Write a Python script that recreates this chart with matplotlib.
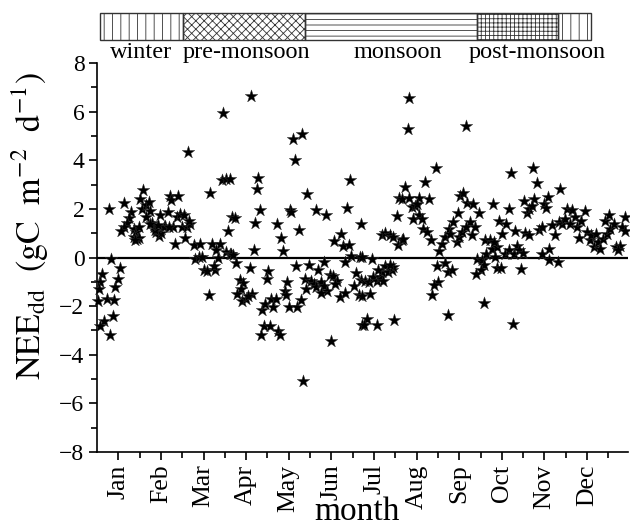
import matplotlib
matplotlib.use("Agg")
import matplotlib.pyplot as plt
from matplotlib.patches import Rectangle
from matplotlib.ticker import MultipleLocator, FixedLocator

plt.rcParams['font.family'] = ['Liberation Serif', 'DejaVu Serif']
plt.rcParams['mathtext.fontset'] = 'stix'
plt.rcParams['hatch.linewidth'] = 0.6

# ---- data (position along year in days, NEE in gC m-2 d-1) ----
day = [3.6, 2.4, 1.2, 0.7, 7.1, 11.9, 13.1, 14.8, 16.2, 10.0, 11.2, 5.2, 1.9, 9.0, 8.3,
       19.5, 24.5, 23.1, 21.4, 19.0, 17.4, 26.2, 28.1, 28.6, 26.7, 30.2, 32.8, 30.9, 32.1,
       35.2, 37.4, 38.0, 35.2, 39.3, 40.5, 42.4, 44.0, 45.9, 45.2, 48.8, 50.5, 51.9, 52.8,
       57.8, 54.3, 57.1, 59.5, 61.9, 60.7, 64.3, 66.6, 65.5, 55.9, 63.1, 69.0, 73.3, 64.7,
       70.2, 72.6, 75.0, 76.2, 78.5, 84.5, 83.3, 79.7, 82.1, 88.1, 85.2, 86.2, 80.9, 90.0,
       89.3, 92.3, 94.7, 93.3, 92.3, 95.2, 96.4, 41.7, 47.6, 43.6, 29.8, 27.4, 38.0, 51.2,
       109.7, 114.9, 114.2, 98.3, 113.0, 116.1, 112.1, 95.9, 97.0, 99.5, 109.0, 101.8,
       104.2, 103.0, 100.2, 103.5, 106.6, 110.6, 107.8, 122.0, 121.3, 118.0, 119.7, 124.4,
       127.5, 125.6, 119.2, 123.3, 116.8, 129.2, 130.4, 128.5, 131.6, 132.8, 137.5, 138.7,
       140.1, 146.3, 141.1, 144.0, 150.1, 156.6, 163.7, 180.4, 178.5, 188.2, 174.4, 169.2,
       175.6, 179.7, 181.6, 187.5, 177.3, 162.0, 151.3, 142.3, 157.8, 135.9, 134.0, 135.2,
       136.8, 143.0, 145.4, 148.2, 149.4, 153.0, 154.9, 156.6, 160.1, 162.0, 164.4, 159.7,
       166.1, 168.5, 171.6, 170.1, 173.2, 176.8, 183.5, 185.1, 186.8, 188.7, 166.8, 189.4,
       147.0,
       223.0, 221.8, 263.5, 241.8, 196.1, 189.0, 192.6, 190.7, 200.2, 212.3, 194.9, 189.5,
       191.4, 193.8, 197.3, 199.7, 202.1, 204.5, 203.3, 205.7, 208.0, 210.4, 211.6, 200.9,
       209.2, 203.3, 205.7, 209.2, 211.1, 215.2, 217.6, 218.7, 214.0, 215.9, 217.6, 219.9,
       222.8, 229.5, 224.7, 227.1, 225.9, 229.5, 231.8, 228.3, 234.2, 237.3, 233.0, 235.4,
       238.3, 244.4, 246.1, 248.5, 251.6, 254.4, 252.1, 256.8, 258.7, 260.4, 258.0, 259.2,
       261.6, 264.4, 268.2, 272.8, 266.3, 263.5, 269.9, 267.5, 242.5, 248.5, 250.9, 253.3,
       243.7, 240.2, 239.4, 250.2, 271.1, 274.7, 277.8, 275.9, 274.0, 270.6, 275.9, 277.1,
       280.6, 283.0, 281.8,
       295.8, 311.0, 314.1, 330.8, 294.4, 286.8, 292.0, 289.1, 298.7, 285.6, 283.2, 283.9,
       285.6, 288.7, 302.9, 296.8, 291.5, 293.9, 297.5, 299.9, 301.0, 303.9, 305.1, 307.0,
       308.7, 312.2, 310.6, 305.8, 308.7, 315.3, 317.7, 319.4, 320.6, 322.0, 317.7, 322.9,
       322.5, 328.9, 324.8, 326.7, 329.6, 332.0, 333.9, 335.6, 339.1, 341.0, 337.9, 342.7,
       344.4, 345.8, 348.2, 349.8, 352.2, 354.6, 352.9, 356.3, 357.7, 359.4, 361.0, 362.9,
       365.3, 364.1, 366.5, 368.9, 370.5, 373.6, 372.0, 374.8, 376.7, 377.2]

nee = [-0.67, -1.0, -1.3, -1.8, -1.7, -1.75, -1.2, -0.9, -0.44, -0.05, -2.4, -2.6, -2.8, -3.2, 1.98,
       2.24, 1.89, 1.62, 1.43, 1.25, 1.11, 1.18, 1.04, 0.77, 0.86, 0.8, 2.76, 2.41, 2.0,
       2.14, 2.28, 1.93, 1.66, 1.41, 1.25, 1.04, 0.9, 1.0, 1.73, 1.28, 1.87, 2.55, 2.35,
       2.51, 1.25, 1.66, 1.8, 1.73, 1.25, 1.25, 1.39, 1.5, 0.56, 0.8, 0.53, 0.56, 4.33,
       -0.05, 0.01, 0.04, -0.51, -0.56, -0.51, -0.33, -1.54, 0.56, 0.56, 0.29, -0.01, 2.66, 5.95,
       3.17, 3.21, 3.24, 1.11, 0.22, 0.15, 1.66, 1.14, 1.25, 1.32, 1.25, 0.7, 1.36, 1.25,
       6.63, 3.28, 2.83, 1.63, 1.43, 1.96, 0.32, 0.15, 0.12, -0.23, -0.43, -0.92,
       -1.06, -1.29, -1.5, -1.77, -1.7, -1.5, -1.6, -0.56, -0.88, -2.15, -1.91, -1.7,
       -1.7, -2.04, -2.8, -2.8, -3.17, -3.03, -3.17, 1.39, 0.8, 0.25, 1.96, 1.89,
       4.86, 5.06, 4.03, 1.14, 2.62, 1.96, 1.76, 3.2, 2.04, 1.39, 0.97, 0.67,
       0.49, 0.53, 0.08, 0.01, -0.19, -0.19, -0.3, -0.37, -0.51, -0.99, -1.39, -1.56,
       -2.04, -2.04, -1.74, -0.88, -1.29, -0.95, -1.08, -1.22, -1.02, -1.18, -1.39, -1.47,
       -0.71, -0.78, -0.95, -1.11, -1.63, -1.47, -1.19, -0.64, -1.56, -0.92, -3.44, -2.77,
       -5.06,
       6.57, 5.27, 5.39, 3.68, -0.08, 0.01, -2.52, -2.77, -2.76, -2.57, -1.5, -1.6,
       -0.95, -1.02, -0.81, -0.95, -0.81, -0.95, -0.6, -0.33, -0.6, -0.53, -0.4, -0.51,
       -0.3, 0.91, 1.0, 0.91, 0.84, 0.53, 0.7, 0.77, 1.69, 2.46, 2.41, 2.89,
       2.46, 2.46, 2.07, 2.1, 1.59, 1.73, 1.59, 2.19, 3.1, 2.41, 1.18, 1.04,
       0.7, 0.26, 0.56, 0.84, 1.18, 1.45, 0.97, 0.63, 0.84, 1.04, 1.82, 2.55,
       2.66, 2.24, 2.18, 1.84, 1.45, 1.25, 1.25, 0.91, -0.33, -0.23, -0.6, -0.53,
       -1.02, -1.15, -1.54, -2.35, -0.05, -0.12, 0.15, -0.3, -0.53, -0.67, -1.88, 0.73,
       0.7, 2.21, 0.36,
       3.48, 3.68, 3.07, 2.83, 2.0, 1.52, 1.36, 0.95, 1.08, 0.43, 0.63, 0.01,
       -0.43, -0.43, -0.47, -2.73, 0.15, 0.29, 0.15, 0.49, 0.29, 0.19, 2.32, 1.82,
       2.0, 2.41, 2.1, 1.0, 0.91, 1.14, 1.25, 2.18, 2.04, 2.48, 0.15, 0.36,
       -0.12, -0.19, 1.32, 0.91, 1.45, 1.39, 1.59, 2.0, 1.96, 1.66, 1.39, 1.25,
       0.8, 1.52, 1.91, 1.04, 0.7, 0.43, 0.91, 0.97, 0.63, 0.36, 0.77, 1.52,
       1.73, 0.97, 1.18, 1.36, 0.43, 0.49, 0.29, 1.25, 1.66, 1.11]

months = ['Jan', 'Feb', 'Mar', 'Apr', 'May', 'Jun', 'Jul', 'Aug', 'Sep', 'Oct', 'Nov', 'Dec']
seasons = ['winter', 'pre-monsoon', 'monsoon', 'post-monsoon', '']
season_hatch = ['||', 'xxxx', '---', '++++', '||']
DAYS_PER_MONTH = 30.42

fig = plt.figure(figsize=(6.3, 5.31), dpi=100)
W, H = 630, 531
ax = fig.add_axes([97 / W, 79 / H, 531 / W, 389 / H])

xpos = [d / DAYS_PER_MONTH for d in day]
ax.scatter(xpos, nee, marker='*', s=90, color='black', edgecolors='#333333',
           linewidths=0.3, zorder=3, clip_on=False)
ax.axhline(0, color='black', lw=1.6, zorder=2)

ax.set_xlim(0, 12.46)
ax.set_ylim(-8, 8)
ax.xaxis.set_major_locator(FixedLocator([i + 0.5 for i in range(12)]))
ax.xaxis.set_minor_locator(FixedLocator([i + 1 for i in range(12)]))
ax.set_xticklabels(months, rotation=90, fontsize=18.5)
ax.yaxis.set_major_locator(MultipleLocator(2))
ax.yaxis.set_minor_locator(MultipleLocator(1))
ax.tick_params(axis='y', labelsize=17)
ax.tick_params(which='major', direction='out', length=6, width=1.2, pad=3)
ax.tick_params(which='minor', direction='out', length=4, width=1.2)
for s in ['top', 'right']:
    ax.spines[s].set_visible(False)
for s in ['left', 'bottom']:
    ax.spines[s].set_linewidth(1.2)

fig.text(30 / W, 1 - 226 / H,
         r'$\mathrm{NEE_{dd}\ \ (gC\ \ m^{-2}\ \ d^{-1})}$',
         rotation=90, ha='center', va='center', fontsize=24.5)
fig.text(357 / W, 1 - 512 / H, 'month', ha='center', va='center', fontsize=24)

# ---- season bar on top (in pixel coordinates of the figure) ----
top = fig.add_axes([0, 0, 1, 1], zorder=5)
top.set_xlim(0, W)
top.set_ylim(H, 0)
top.axis('off')
top.patch.set_alpha(0)
edges = [100, 183, 305, 477, 558, 591]
for i, h in enumerate(season_hatch):
    top.add_patch(Rectangle((edges[i], 13), edges[i + 1] - edges[i], 27, fill=False,
                            hatch=h, edgecolor='#333333', lw=1.0))
label_x = [141, 246, 398, 537]
for x, lab in zip(label_x, seasons[:4]):
    top.text(x, 58, lab, ha='center', va='baseline', fontsize=17.5)

fig.savefig('out.png', dpi=100)
